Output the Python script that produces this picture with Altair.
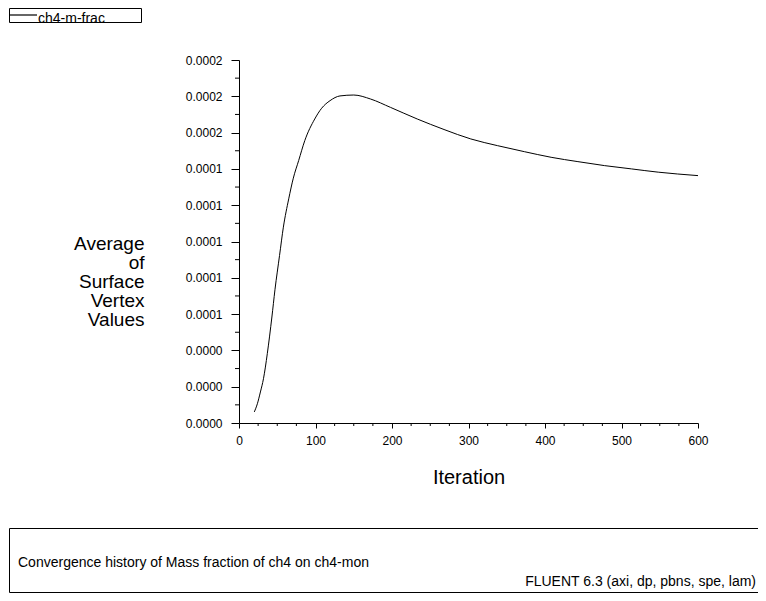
import altair as alt
import pandas as pd

# ---- data ----
iterations = [20, 24, 28, 32, 37, 43, 47, 53, 58, 65, 71, 78, 86, 99, 108, 119, 132,
              150, 172, 198, 233, 268, 303, 338, 373, 408, 443, 478, 513, 548, 573, 600]
mass_fraction = [6.1e-06, 1.06e-05, 1.71e-05, 2.44e-05, 3.82e-05, 5.84e-05, 7.34e-05,
                 9.23e-05, 1.079e-04, 1.235e-04, 1.349e-04, 1.446e-04, 1.556e-04,
                 1.675e-04, 1.734e-04, 1.776e-04, 1.802e-04, 1.807e-04, 1.785e-04,
                 1.739e-04, 1.675e-04, 1.617e-04, 1.565e-04, 1.528e-04, 1.495e-04,
                 1.464e-04, 1.440e-04, 1.418e-04, 1.400e-04, 1.382e-04, 1.372e-04,
                 1.363e-04]

x_major = [0, 100, 200, 300, 400, 500, 600]
x_minor = [25, 50, 75, 125, 150, 175, 225, 250, 275, 325, 350, 375,
           425, 450, 475, 525, 550, 575]
y_major = [0.0, 0.00002, 0.00004, 0.00006, 0.00008, 0.0001,
           0.00012, 0.00014, 0.00016, 0.00018, 0.0002]
y_minor = [0.00001, 0.00003, 0.00005, 0.00007, 0.00009,
           0.00011, 0.00013, 0.00015, 0.00017, 0.00019]

y_title = ["Average", "of", "Surface", "Vertex", "Values"]
x_title = "Iteration"
legend_label = "ch4-m-frac"
caption_left = "Convergence history of Mass fraction of ch4 on ch4-mon"
caption_right = "FLUENT 6.3 (axi, dp, pbns, spe, lam)"

W, H = 459, 363
FONT = "Liberation Sans"

df = pd.DataFrame({"iter": iterations, "val": mass_fraction})
xs = alt.Scale(domain=[0, 600], nice=False, zero=False)
ys = alt.Scale(domain=[0, 0.0002], nice=False, zero=False)

x_axis = alt.Axis(
    values=x_major, format="d", tickSize=5, labelPadding=7, labelFontSize=12,
    labelFlush=False, title=x_title, titleFontSize=20, titleY=60,
    titleBaseline="alphabetic")
y_axis = alt.Axis(
    values=y_major, format=".4f", tickSize=8, labelPadding=9, labelFontSize=12,
    labelFlush=False, labelOverlap=False, title=y_title, titleAngle=0,
    titleAlign="right", titleBaseline="alphabetic", titleX=-95, titleY=189,
    titleFontSize=19, titleLineHeight=19)

line = alt.Chart(df).mark_line(color="black", strokeWidth=1, interpolate="monotone").encode(
    x=alt.X("iter:Q", scale=xs, axis=x_axis),
    y=alt.Y("val:Q", scale=ys, axis=y_axis),
)

xminor = alt.Chart(pd.DataFrame({"iter": x_minor})).mark_rule(color="black", strokeWidth=1).encode(
    x=alt.X("iter:Q", scale=xs, axis=x_axis),
    y=alt.value(H), y2=alt.value(H + 3),
)
yminor = alt.Chart(pd.DataFrame({"val": y_minor})).mark_rule(color="black", strokeWidth=1).encode(
    y=alt.Y("val:Q", scale=ys, axis=y_axis),
    x=alt.value(0), x2=alt.value(-4),
)

one = pd.DataFrame({"a": [0]})
legend_box = alt.Chart(one).mark_rect(fillOpacity=0, stroke="black", strokeWidth=1).encode(
    x=alt.value(-229.5), x2=alt.value(-97.5), y=alt.value(-51.5), y2=alt.value(-37.5))
legend_line = alt.Chart(one).mark_rule(color="black", strokeWidth=1.2).encode(
    x=alt.value(-229), x2=alt.value(-202), y=alt.value(-45), y2=alt.value(-45))
legend_text = alt.Chart(one).mark_text(align="left", baseline="alphabetic", fontSize=14,
                                       font=FONT, color="black").encode(
    x=alt.value(-201), y=alt.value(-37.5), text=alt.value(legend_label))

cap_box = alt.Chart(one).mark_rect(fillOpacity=0, stroke="black", strokeWidth=1).encode(
    x=alt.value(-229.5), x2=alt.value(560), y=alt.value(468.5), y2=alt.value(532.5))
cap_left = alt.Chart(one).mark_text(align="left", baseline="alphabetic", fontSize=14,
                                    font=FONT, color="black").encode(
    x=alt.value(-221), y=alt.value(507), text=alt.value(caption_left))
cap_right = alt.Chart(one).mark_text(align="right", baseline="alphabetic", fontSize=14,
                                     font=FONT, color="black").encode(
    x=alt.value(517), y=alt.value(525.5), text=alt.value(caption_right))

chart = alt.layer(
    line, xminor, yminor, legend_box, legend_text, cap_box, cap_left, cap_right, legend_line
).properties(
    width=W, height=H,
    autosize=alt.AutoSizeParams(type="none"),
    padding={"left": 231, "top": 52, "right": 60, "bottom": 170},
    background="white",
).configure_view(stroke=None).configure_axis(
    grid=False, domainColor="black", tickColor="black", labelColor="black",
    titleColor="black", labelFont=FONT, titleFont=FONT, titleFontWeight="normal",
    domainWidth=1, tickWidth=1,
)

chart.save("out.html", embed_options={"renderer": "svg", "actions": False})
